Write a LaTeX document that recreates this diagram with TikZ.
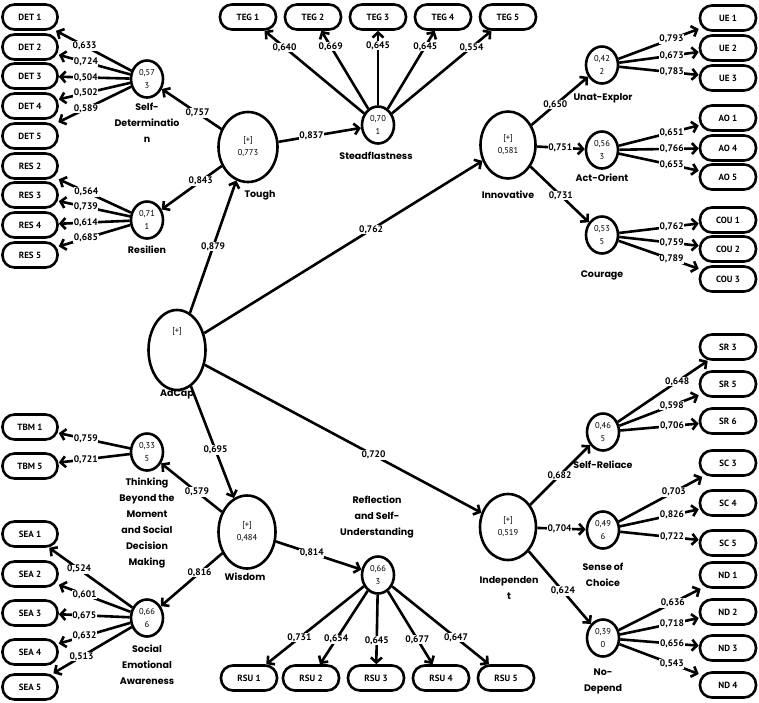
\documentclass[tikz,border=0pt]{standalone}
\usepackage{fontspec}
\setmainfont{Poppins}
\newfontfamily\numfont{PT Sans}
\usetikzlibrary{shapes.geometric, arrows.meta, positioning}

\begin{document}
\begin{tikzpicture}[
    x=1pt, y=-1pt,
    construct/.style={ellipse, draw, line width=2.6pt, inner sep=0pt, align=center, font=\numfont\fontsize{8.5}{13}\selectfont},
    lvsmall/.style={construct, minimum width=32pt, minimum height=37pt},
    lvbig/.style={construct, minimum width=57pt, minimum height=70pt},
    indicator/.style={rectangle, rounded corners=12pt, draw, line width=2.6pt, minimum width=55pt, minimum height=25pt, inner sep=0pt, font=\numfont\bfseries\fontsize{9}{10}\selectfont},
    cname/.style={align=center, inner sep=0pt, font=\bfseries\fontsize{9.5}{16}\selectfont},
    coef/.style={fill=white, inner sep=0.6pt, font=\numfont\bfseries\fontsize{9.5}{10}\selectfont},
    link/.style={line width=2.6pt, -{Straight Barb[length=5pt,width=11pt]}}
]
\useasboundingbox (0,0) rectangle (759,702);

% Second order constructs
\node (adcap) [lvbig, minimum height=80pt] at (177,350) {};
\node (adcapplus) [font=\numfont\fontsize{8.5}{9}\selectfont] at ([yshift=19pt]adcap.center) {[+]};
\node (tough) [lvbig, minimum width=59pt] at (248,147) {[+]\\0,773};
\node (innov) [lvbig, minimum width=55pt, minimum height=67pt] at (508,145) {[+]\\0,581};
\node (wisdom) [lvbig, minimum height=73pt] at (247,532) {[+]\\0,484};
\node (indep) [lvbig, minimum width=56pt, minimum height=66pt] at (508,527) {[+]\\0,519};

% First order constructs
\node (selfdet) [lvsmall] at (147,79) {0,57\\3};
\node (resil) [lvsmall] at (147,220) {0,71\\1};
\node (steadf) [lvsmall] at (378,125) {0,70\\1};
\node (unat) [lvsmall] at (602,65) {0,42\\2};
\node (actor) [lvsmall] at (602,150) {0,56\\3};
\node (courage) [lvsmall] at (602,235) {0,53\\5};
\node (think) [lvsmall] at (147,452) {0,33\\5};
\node (social) [lvsmall] at (147,618) {0,66\\6};
\node (reflect) [lvsmall] at (378,575) {0,66\\3};
\node (selfrel) [lvsmall] at (603,432) {0,46\\5};
\node (sense) [lvsmall] at (603,530) {0,49\\6};
\node (nodep) [lvsmall] at (603,638) {0,39\\0};

% Construct names
\node (adcapname) [cname] at (177,394) {AdCap};
\node (toughname) [cname] at (260,195) {Tough};
\node (innovname) [cname] at (508,195) {Innovative};
\node (wisdomname) [cname] at (245,577) {Wisdom};
\node (indepname) [cname] at (509,588) {Independen\\t};
\node (selfdetname) [cname] at (147,123) {Self-\\Determinatio\\n};
\node (resilname) [cname] at (147,250) {Resilien};
\node (steadfname) [cname] at (376,156) {Steadflastness};
\node (unatname) [cname] at (603,98) {Unat-Explor};
\node (actorname) [cname] at (602,178) {Act-Orient};
\node (couragename) [cname] at (602,275) {Courage};
\node (thinkname) [cname] at (147,523) {Thinking\\Beyond the\\Moment\\and Social\\Decision\\Making};
\node (socialname) [cname] at (147,665) {Social\\Emotional\\Awareness};
\node (reflectname) [cname] at (377,517) {Reflection\\and Self-\\Understanding};
\node (selfrelname) [cname] at (603,465) {Self-Reliace};
\node (sensename) [cname] at (603,575) {Sense of\\Choice};
\node (nodepname) [cname] at (603,681) {No-\\Depend};

% Indicators
\foreach \n/\lab/\y in {det1/DET 1/17, det2/DET 2/47, det3/DET 3/76, det4/DET 4/106, det5/DET 5/136,
    res2/RES 2/166, res3/RES 3/195, res4/RES 4/225, res5/RES 5/255,
    tbm1/TBM 1/427, tbm5/TBM 5/466,
    sea1/SEA 1/534, sea2/SEA 2/574, sea3/SEA 3/613, sea4/SEA 4/652, sea5/SEA 5/687}
    \node (\n) [indicator] at (30,\y) {\lab};

\foreach \n/\lab/\y in {ue1/UE 1/18, ue2/UE 2/48, ue3/UE 3/78, ao1/AO 1/118, ao4/AO 4/148, ao5/AO 5/177,
    cou1/COU 1/220, cou2/COU 2/249, cou3/COU 3/279,
    sr3/SR 3/347, sr5/SR 5/384, sr6/SR 6/421, sc3/SC 3/463, sc4/SC 4/503, sc5/SC 5/543,
    nd1/ND 1/575, nd2/ND 2/612, nd3/ND 3/648, nd4/ND 4/685}
    \node (\n) [indicator, minimum width=56pt] at (728,\y) {\lab};

\foreach \n/\lab/\x in {teg1/TEG 1/248, teg2/TEG 2/313, teg3/TEG 3/378, teg4/TEG 4/443, teg5/TEG 5/508}
    \node (\n) [indicator, minimum width=56pt] at (\x,17) {\lab};

\foreach \n/\lab/\x in {rsu1/RSU 1/249, rsu2/RSU 2/311, rsu3/RSU 3/376, rsu4/RSU 4/441, rsu5/RSU 5/506}
    \node (\n) [indicator, minimum width=56pt] at (\x,678) {\lab};

% Structural paths
\draw [link] (adcap) -- (tough) node [coef, pos=0.5] {0,879};
\draw [link] (adcap) -- (innov) node [coef, pos=0.6] {0,762};
\draw [link] (adcap) -- (wisdom) node [coef, pos=0.57] {0,695};
\draw [link] (adcap) -- (indep) node [coef, pos=0.61] {0,720};
\draw [link] (tough) -- (selfdet) node [coef, pos=0.4] {0,757};
\draw [link] (tough) -- (resil) node [coef, pos=0.35] {0,843};
\draw [link] (tough) -- (steadf) node [coef, pos=0.4] {0,837};
\draw [link] (innov) -- (unat) node [coef, pos=0.42] {0,650};
\draw [link] (innov) -- (actor) node [coef, pos=0.49] {0,751};
\draw [link] (innov) -- (courage) node [coef, pos=0.52] {0,731};
\draw [link] (wisdom) -- (think) node [coef, pos=0.41] {0,579};
\draw [link] (wisdom) -- (social) node [coef, pos=0.37] {0,816};
\draw [link] (wisdom) -- (reflect) node [coef, pos=0.42] {0,814};
\draw [link] (indep) -- (selfrel) node [coef, pos=0.49] {0,682};
\draw [link] (indep) -- (sense) node [coef, pos=0.46] {0,704};
\draw [link] (indep) -- (nodep) node [coef, pos=0.55] {0,624};

% Outer loadings
\foreach \n/\v in {det1/{0,633}, det2/{0,724}, det3/{0,504}, det4/{0,502}, det5/{0,589}}
    \draw [link] (selfdet) -- (\n) node [coef, pos=0.62] {\v};
\foreach \n/\v in {res2/{0,564}, res3/{0,739}, res4/{0,614}, res5/{0,685}}
    \draw [link] (resil) -- (\n) node [coef, pos=0.62] {\v};
\foreach \n/\v in {tbm1/{0,759}, tbm5/{0,721}}
    \draw [link] (think) -- (\n) node [coef, pos=0.62] {\v};
\foreach \n/\v in {sea1/{0,524}, sea2/{0,601}, sea3/{0,675}, sea4/{0,632}, sea5/{0,513}}
    \draw [link] (social) -- (\n) node [coef, pos=0.64] {\v};
\foreach \n/\v in {teg1/{0,640}, teg2/{0,669}, teg3/{0,645}, teg4/{0,645}, teg5/{0,554}}
    \draw [link] (steadf) -- (\n) node [coef, pos=0.8] {\v};
\foreach \n/\v in {rsu1/{0,731}, rsu2/{0,654}, rsu3/{0,645}, rsu4/{0,677}, rsu5/{0,647}}
    \draw [link] (reflect) -- (\n) node [coef, pos=0.66] {\v};
\foreach \n/\v in {ue1/{0,793}, ue2/{0,673}, ue3/{0,783}}
    \draw [link] (unat) -- (\n) node [coef, pos=0.66] {\v};
\foreach \n/\v in {ao1/{0,651}, ao4/{0,766}, ao5/{0,653}}
    \draw [link] (actor) -- (\n) node [coef, pos=0.66] {\v};
\foreach \n/\v in {cou1/{0,762}, cou2/{0,759}, cou3/{0,789}}
    \draw [link] (courage) -- (\n) node [coef, pos=0.66] {\v};
\foreach \n/\v in {sr3/{0,648}, sr5/{0,598}, sr6/{0,706}}
    \draw [link] (selfrel) -- (\n) node [coef, pos=0.66] {\v};
\foreach \n/\v in {sc3/{0,703}, sc4/{0,826}, sc5/{0,722}}
    \draw [link] (sense) -- (\n) node [coef, pos=0.66] {\v};
\foreach \n/\v in {nd1/{0,636}, nd2/{0,718}, nd3/{0,656}, nd4/{0,543}}
    \draw [link] (nodep) -- (\n) node [coef, pos=0.66] {\v};

\end{tikzpicture}
\end{document}
